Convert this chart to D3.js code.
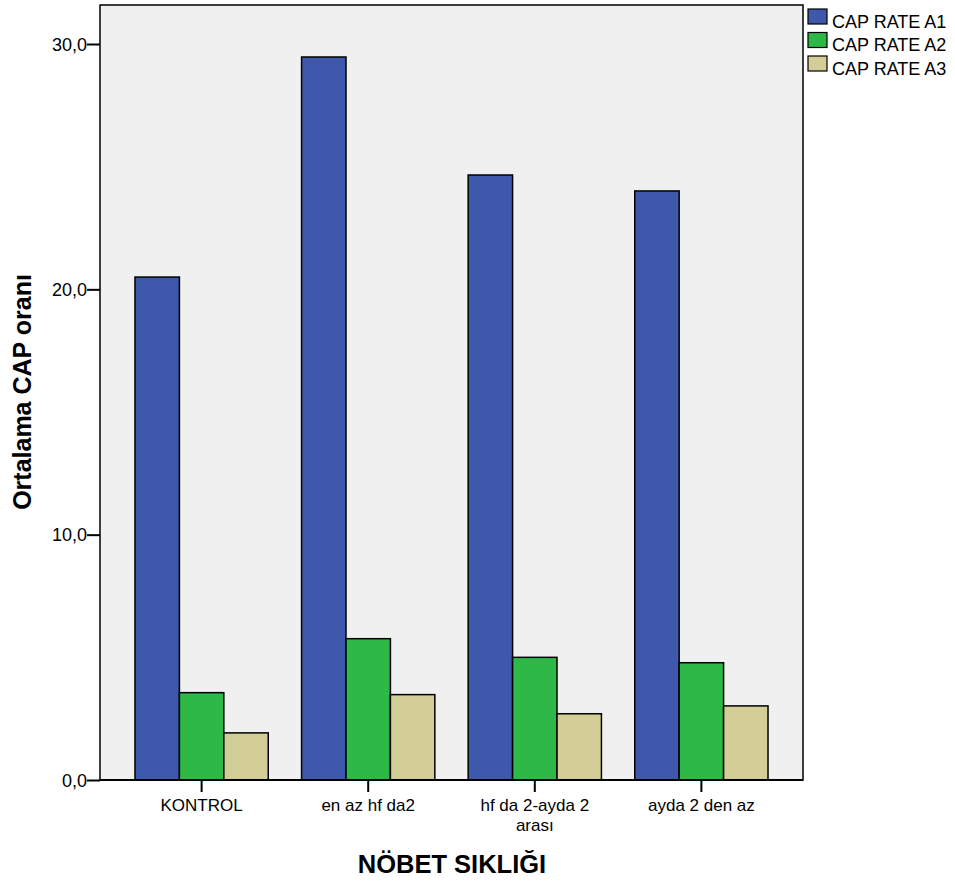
<!DOCTYPE html>
<html><head><meta charset="utf-8">
<script src="https://cdnjs.cloudflare.com/ajax/libs/d3/7.8.5/d3.min.js"></script>
<style>body{margin:0;background:#fff}svg{display:block;font-family:Arial,"Liberation Sans",sans-serif}</style>
</head><body><svg id="c" width="955" height="881"></svg>
<script>
const categories = ["KONTROL", "en az hf da2", "hf da 2-ayda 2\narası", "ayda 2 den az"];
const seriesNames = ["CAP RATE A1", "CAP RATE A2", "CAP RATE A3"];
const rateA1 = [20.50, 29.47, 24.66, 24.01];
const rateA2 = [3.56, 5.76, 5.00, 4.78];
const rateA3 = [1.92, 3.48, 2.70, 3.02];
const yTicks = [0, 10, 20, 30];
const colors = ["#3e58ac", "#2eb848", "#d3ce97"];
const series = [rateA1, rateA2, rateA3];

const svg = d3.select("#c");
const L = 100, R = 803, T = 5, B = 780;
const y = d3.scaleLinear().domain([0, 30]).range([B, 44]);
const x = d3.scaleBand().domain(categories).range([L, R]).paddingInner(0.2).paddingOuter(0.21);
const xs = d3.scaleBand().domain(seriesNames).range([0, x.bandwidth()]);

svg.append("rect").attr("x", L).attr("y", T).attr("width", R - L).attr("height", B - T)
  .attr("fill", "#f0f0f0").attr("stroke", "#000").attr("stroke-width", 1.5);

categories.forEach((c, i) => {
  series.forEach((s, j) => {
    svg.append("rect").attr("x", x(c) + xs(seriesNames[j])).attr("y", y(s[i]))
      .attr("width", xs.bandwidth()).attr("height", y(0) - y(s[i]))
      .attr("fill", colors[j]).attr("stroke", "#000").attr("stroke-width", 1.5);
  });
});

const yAxis = svg.append("g").attr("transform", `translate(${L},0)`)
  .call(d3.axisLeft(y).tickValues(yTicks).tickSize(13).tickPadding(0)
    .tickFormat(d => d3.format(".1f")(d).replace(".", ",")));
yAxis.select(".domain").remove();
yAxis.selectAll("line").attr("stroke", "#000").attr("stroke-width", 2);
yAxis.selectAll("text").attr("font-size", 18).attr("fill", "#000").attr("dy", "0.35em")
  .attr("font-family", "Arial, 'Liberation Sans', sans-serif");

const xAxis = svg.append("g").attr("transform", `translate(0,${B})`)
  .call(d3.axisBottom(x).tickSize(12).tickFormat(""));
xAxis.select(".domain").remove();
xAxis.selectAll("line").attr("stroke", "#000").attr("stroke-width", 2);
categories.forEach(c => {
  const lines = c.split("\n");
  const cx = x(c) + x.bandwidth() / 2;
  lines.forEach((ln, k) => svg.append("text").attr("x", cx).attr("y", 811 + k * 20)
    .attr("text-anchor", "middle").attr("font-size", 17).attr("fill", "#000").text(ln));
});
svg.append("line").attr("x1", L).attr("x2", R).attr("y1", B).attr("y2", B).attr("stroke", "#000").attr("stroke-width", 2);

svg.append("text").attr("x", 452).attr("y", 873).attr("text-anchor", "middle")
  .attr("font-size", 25.5).attr("font-weight", "bold").text("NÖBET SIKLIĞI");
svg.append("text").attr("transform", "translate(31,392) rotate(-90)").attr("text-anchor", "middle")
  .attr("font-size", 25).attr("font-weight", "bold").text("Ortalama CAP oranı");

seriesNames.forEach((n, j) => {
  const yy = 9 + j * 23.5;
  svg.append("rect").attr("x", 808).attr("y", yy).attr("width", 19).attr("height", 15)
    .attr("fill", colors[j]).attr("stroke", "#000").attr("stroke-width", 1.2);
  svg.append("text").attr("x", 832).attr("y", yy + 18.5).attr("font-size", 18)
    .attr("fill", "#000").text(n);
});
</script></body></html>
